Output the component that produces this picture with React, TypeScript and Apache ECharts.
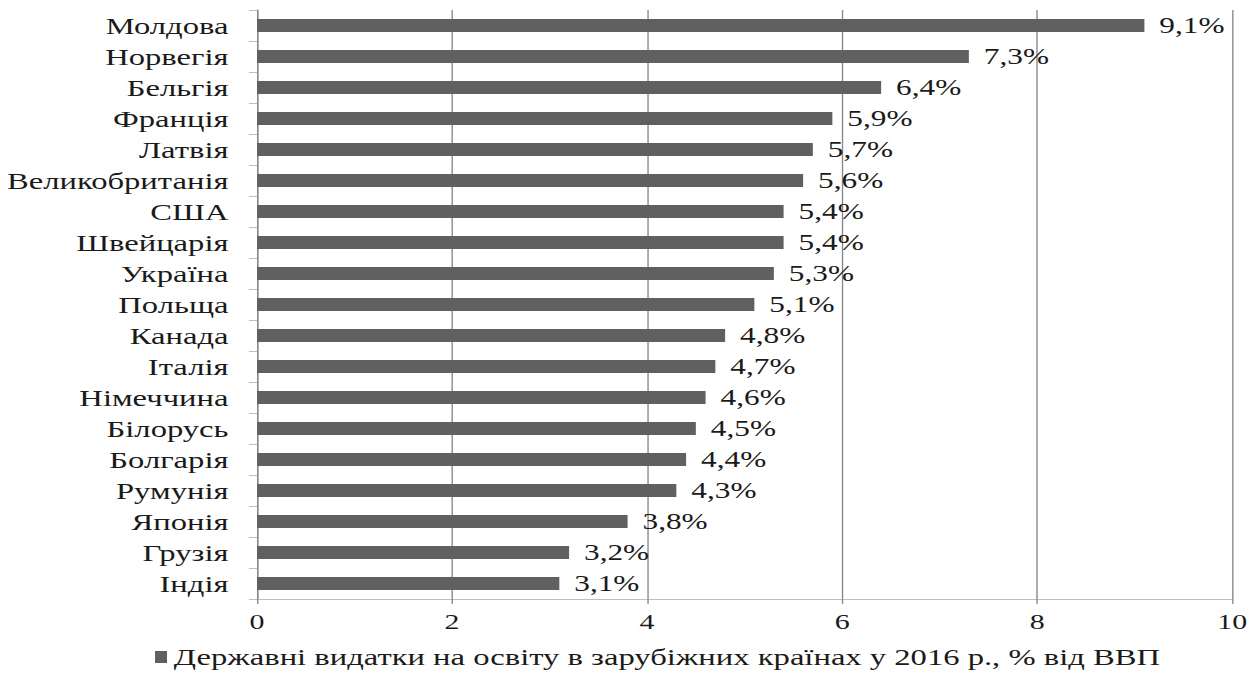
import React, { useEffect, useRef } from "react";
import * as echarts from "echarts";

const categories = [
  "Молдова",
  "Норвегія",
  "Бельгія",
  "Франція",
  "Латвія",
  "Великобританія",
  "США",
  "Швейцарія",
  "Україна",
  "Польща",
  "Канада",
  "Італія",
  "Німеччина",
  "Білорусь",
  "Болгарія",
  "Румунія",
  "Японія",
  "Грузія",
  "Індія",
];
const values = [9.1, 7.3, 6.4, 5.9, 5.7, 5.6, 5.4, 5.4, 5.3, 5.1, 4.8, 4.7, 4.6, 4.5, 4.4, 4.3, 3.8, 3.2, 3.1];
const seriesName = "Державні видатки на освіту в зарубіжних країнах у 2016 р., % від ВВП";

const STRETCH = 1.36;
const PAGE_W = 1251;
const PAGE_H = 675;
const FONT = "'Liberation Serif', 'Times New Roman', Times, serif";
const TEXT_COLOR = "#1a1a1a";

export default function App() {
  const ref = useRef<HTMLDivElement>(null);
  useEffect(() => {
    if (!ref.current) return;
    const chart = echarts.init(ref.current, undefined, { renderer: "svg" });
    chart.setOption({
      animation: false,
      backgroundColor: "#ffffff",
      textStyle: { fontFamily: FONT },
      grid: { left: 189, right: 11, top: 10, bottom: 76, containLabel: false },
      legend: {
        data: [seriesName],
        bottom: 1,
        left: 109,
        itemWidth: 8.8,
        itemHeight: 12,
        itemGap: 6,
        icon: "rect",
        textStyle: { fontFamily: FONT, fontSize: 24, color: TEXT_COLOR },
      },
      xAxis: {
        type: "value",
        min: 0,
        max: 10,
        interval: 2,
        axisLine: { show: true, lineStyle: { color: "#bfbfbf", width: 1 } },
        axisTick: { show: true, length: 5, lineStyle: { color: "#888" } },
        axisLabel: { fontFamily: FONT, fontSize: 22, color: TEXT_COLOR, margin: 12 },
        splitLine: { show: true, lineStyle: { color: "#888", width: 1 } },
      },
      yAxis: {
        type: "category",
        data: categories,
        inverse: true,
        axisLine: { show: true, lineStyle: { color: "#888", width: 1 } },
        axisTick: { show: true, length: 6, interval: 0, alignWithLabel: false, lineStyle: { color: "#bfbfbf" } },
        axisLabel: { interval: 0, fontFamily: FONT, fontSize: 24, color: TEXT_COLOR, margin: 21 },
      },
      series: [
        {
          name: seriesName,
          type: "bar",
          data: values,
          barWidth: 13,
          itemStyle: { color: "#606060" },
          label: {
            show: true,
            position: "right",
            distance: 11,
            fontFamily: FONT,
            fontSize: 23,
            color: TEXT_COLOR,
            formatter: (p: any) => p.value.toFixed(1).replace(".", ",") + "%",
          },
        },
      ],
    });
    return () => chart.dispose();
  }, []);
  return (
    <div
      ref={ref}
      style={{
        position: "absolute",
        left: 0,
        top: 0,
        width: PAGE_W / STRETCH,
        height: PAGE_H,
        transform: `scaleX(${STRETCH})`,
        transformOrigin: "0 0",
      }}
    />
  );
}
